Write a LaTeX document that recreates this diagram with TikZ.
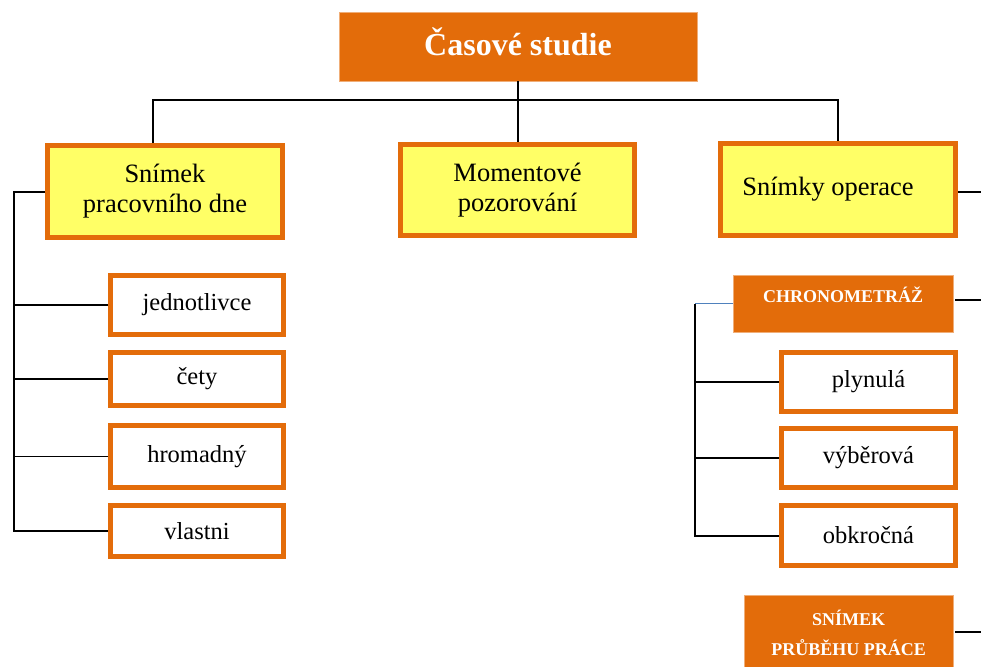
\documentclass[tikz,border=0pt]{standalone}
\usepackage{fontspec}
\setmainfont{Liberation Serif}
\definecolor{borange}{HTML}{E36C0A}
\definecolor{byellow}{HTML}{FFFF66}
\definecolor{lblue}{HTML}{4F81BD}
\begin{document}
\begin{tikzpicture}[x=1pt,y=-1pt,
  titlebox/.style={fill=borange, draw=borange!55!white, line width=0.8pt,
    minimum width=358pt, minimum height=69pt, inner sep=0pt,
    text=white, font=\fontsize{32}{36}\selectfont\bfseries},
  ybox/.style={fill=byellow, draw=borange, line width=5pt, inner sep=0pt,
    minimum width=235pt, minimum height=92pt, align=center,
    font=\fontsize{26.5}{30}\selectfont},
  wbox/.style={fill=white, draw=borange, line width=5pt, inner sep=0pt,
    minimum width=173pt, font=\fontsize{24.5}{28}\selectfont},
  obox/.style={fill=borange, draw=borange!55!white, line width=0.6pt, inner sep=0pt,
    text=white, align=center, font=\fontsize{18}{30}\selectfont\bfseries},
  link/.style={draw=black, line width=2pt},
  twig/.style={draw=black, line width=1.5pt}]
\useasboundingbox (0,0) rectangle (981,666);

% top of the hierarchy
\node[titlebox, text depth=10pt] (top) at (518,46.5) {Časové studie};

% main branches
\node[ybox] (den) at (165,191.5) {Snímek\\pracovního dne};
\node[ybox, minimum width=234pt, minimum height=91pt] (mom) at (517.5,190) {Momentové\\pozorování};
\node[ybox] (oper) at (838,189.5) {Snímky operace\hspace*{20pt}};

% kinds of working-day records
\node[wbox, minimum height=59pt] (jedn) at (197,305) {jednotlivce};
\node[wbox, minimum height=53pt] (cety) at (197,379) {čety};
\node[wbox, minimum height=62pt] (hrom) at (197,456.5) {hromadný};
\node[wbox, minimum height=51pt] (vlas) at (197,531) {vlastni};

% operation records
\node[obox, minimum width=220pt, minimum height=57pt, text depth=17pt] (chrono) at (843,303.5) {CHRONOMETRÁŽ};
\node[wbox, minimum width=174pt, minimum height=59pt] (plyn) at (868.5,382) {plynulá};
\node[wbox, minimum width=174pt, minimum height=59pt] (vyb) at (868.5,458) {výběrová};
\node[wbox, minimum width=174pt, minimum height=60pt] (obk) at (868.5,535.5) {obkročná};
\node[obox, minimum width=209pt, minimum height=75pt] (prub) at (848.5,632.5) {SNÍMEK\\PRŮBĚHU PRÁCE};

% tree connectors from the title
\coordinate (bus) at (153,100);
\draw[link] (top.south) -- (top.south |- mom.north);
\draw[link] (bus |- den.north) -- (bus) -| (oper.north);

% left bracket
\coordinate (lrail) at (14,191.5);
\draw[link] (den.west) -- (lrail) |- (vlas.west);
\draw[twig] (jedn.west) -- (jedn.west -| lrail);
\draw[twig] (cety.west) -- (cety.west -| lrail);
\draw[twig] (hrom.west) -- (hrom.west -| lrail);

% right bracket
\coordinate (rrail) at (695,303.5);
\draw[lblue, line width=1.2pt] (chrono.west) -- (rrail);
\draw[link] (rrail) |- (obk.west);
\draw[twig] (plyn.west) -- (plyn.west -| rrail);
\draw[twig] (vyb.west) -- (vyb.west -| rrail);

% lines leaving to the right
\coordinate (out1) at (990,192);
\coordinate (out2) at (990,300);
\coordinate (out3) at (990,632);
\draw[link] (oper.east |- out1) -- (out1);
\draw[link] (chrono.east |- out2) ++(2,0) -- (out2);
\draw[link] (prub.east |- out3) ++(2,0) -- (out3);
\end{tikzpicture}
\end{document}
